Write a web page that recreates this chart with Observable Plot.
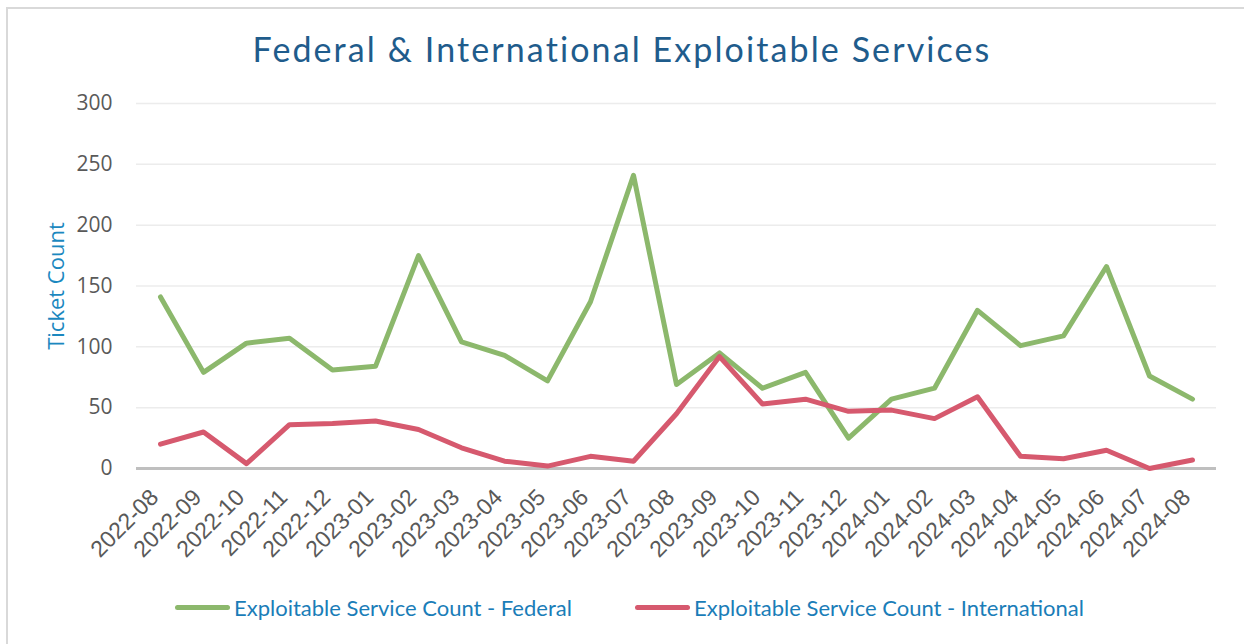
<!DOCTYPE html>
<html>
<head>
<meta charset="utf-8">
<script src="https://cdn.jsdelivr.net/npm/d3@7"></script>
<script src="https://cdn.jsdelivr.net/npm/@observablehq/plot@0.6"></script>
<style>
  html, body { margin: 0; padding: 0; background: #fff; overflow: hidden; }
  #wrap { position: relative; width: 1244px; height: 644px; overflow: hidden; background: #fff; }
  #frame { position: absolute; left: 6px; top: 7px; width: 1240px; height: 640px;
           border-top: 2px solid #d9d9d9; border-left: 2px solid #d9d9d9; }
  #title { position: absolute; left: 0; top: 28px; width: 1244px; text-align: center;
           font-family: Lato, "Open Sans", sans-serif; font-size: 34px; color: #1f5c8c;
           letter-spacing: 2.1px; }
  #chart { position: absolute; left: 0; top: 80px; }
  #ylab { position: absolute; left: 55px; top: 286px; transform: translate(-50%, -50%) rotate(-90deg);
          font-family: "Open Sans", sans-serif; font-size: 22px; color: #1b88bf; white-space: nowrap; }
  .leg { position: absolute; top: 594px; font-family: Lato, "Open Sans", sans-serif; font-size: 22px;
         color: #1a7db8; white-space: nowrap; display: flex; align-items: center; }
  .sw { display: inline-block; width: 55px; height: 5px; border-radius: 3px; margin-right: 4px; }
  g[aria-label="x-axis tick label"] text { font-family: "Liberation Sans", Arial, sans-serif; font-size: 23px; }
  g[aria-label="y-axis tick label"] text { font-family: "Open Sans", sans-serif; font-size: 21px; }
</style>
</head>
<body>
<div id="wrap">
  <div id="frame"></div>
  <div id="title">Federal &amp; International Exploitable Services</div>
  <div id="chart"></div>
  <div id="ylab">Ticket Count</div>
  <div class="leg" style="left:175px"><span class="sw" style="background:#8cb86c"></span>Exploitable Service Count - Federal</div>
  <div class="leg" style="left:635px"><span class="sw" style="background:#d6596e"></span>Exploitable Service Count - International</div>
</div>
<script>
const months = ["2022-08","2022-09","2022-10","2022-11","2022-12","2023-01","2023-02","2023-03","2023-04","2023-05","2023-06","2023-07","2023-08","2023-09","2023-10","2023-11","2023-12","2024-01","2024-02","2024-03","2024-04","2024-05","2024-06","2024-07","2024-08"];
const federal = [141, 79, 103, 107, 81, 84, 175, 104, 93, 72, 137, 241, 69, 95, 66, 79, 25, 57, 66, 130, 101, 109, 166, 76, 57];
const international = [20, 30, 4, 36, 37, 39, 32, 17, 6, 2, 10, 6, 45, 92, 53, 57, 47, 48, 41, 59, 10, 8, 15, 0, 7];
const yTicks = [0, 50, 100, 150, 200, 250, 300];
const seriesNames = ["Exploitable Service Count - Federal", "Exploitable Service Count - International"];
const seriesColors = ["#8cb86c", "#d6596e"];

const fedData = months.map((m, i) => ({month: m, value: federal[i], series: seriesNames[0]}));
const intData = months.map((m, i) => ({month: m, value: international[i], series: seriesNames[1]}));

const chart = Plot.plot({
  width: 1244,
  height: 500,
  marginLeft: 136,
  marginRight: 28,
  marginTop: 23,
  marginBottom: 112,
  style: {background: "transparent", color: "#595959"},
  x: {type: "point", domain: months, padding: 0.5, label: null},
  y: {domain: [0, 300], label: null},
  marks: [
    Plot.gridY(yTicks.filter(d => d > 0), {stroke: "#ececec", strokeOpacity: 1, strokeWidth: 1.5}),
    Plot.ruleY([0], {stroke: "#bfbfbf", strokeWidth: 3}),
    Plot.line(fedData, {x: "month", y: "value", stroke: seriesColors[0], strokeWidth: 5, strokeLinecap: "round", strokeLinejoin: "round"}),
    Plot.line(intData, {x: "month", y: "value", stroke: seriesColors[1], strokeWidth: 5, strokeLinecap: "round", strokeLinejoin: "round"}),
    Plot.axisY({ticks: yTicks, tickSize: 0, tickPadding: 24, fill: "#595959", fontSize: 21, label: null}),
    Plot.axisX({tickSize: 0, tickPadding: 25, tickRotate: -45, dx: -6, fill: "#595959", fontSize: 23, label: null})
  ]
});
document.getElementById("chart").appendChild(chart);
</script>
</body>
</html>
